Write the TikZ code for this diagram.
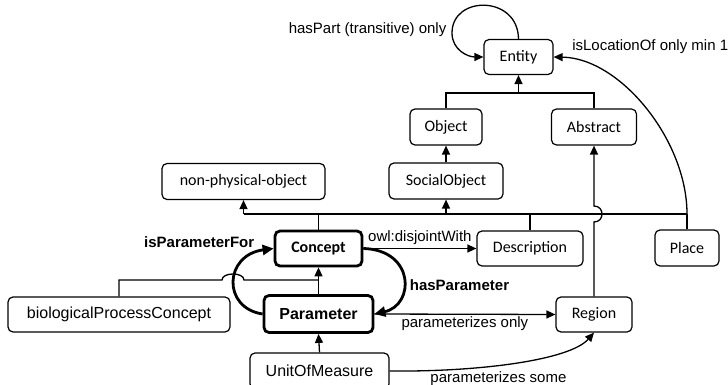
\documentclass[tikz,border=0pt]{standalone}
\usepackage{fontspec}
\setmainfont{Liberation Sans}
\newfontfamily\carlito{Carlito}
\usetikzlibrary{arrows.meta}

\begin{document}
\begin{tikzpicture}[x=1pt, y=-1pt,
        cls/.style={rectangle, draw, rounded corners=5pt, line width=1.2pt, minimum height=35pt, inner xsep=2pt, font=\carlito\fontsize{16}{19}\selectfont},
        keycls/.style={cls, line width=2.8pt},
        arial/.style={font=\fontsize{16}{19}\selectfont},
        arr/.style={-{Triangle[length=9pt, width=8pt]}, line width=1.3pt},
        thickarr/.style={-{Triangle[length=11pt, width=10pt]}, line width=2.8pt},
        lbl/.style={font=\fontsize{15}{18}\selectfont, inner sep=1pt}]
        \useasboundingbox (0,0) rectangle (728,385);

        % Top
        \node[cls, minimum width=69pt] (entity) at (518.5,57) {Entity};
        \node[cls, minimum width=72pt, minimum height=36pt] (object) at (446,127) {Object};
        \node[cls, minimum width=85pt, minimum height=36pt] (abstract) at (594,127) {Abstract};
        \node[cls, minimum width=114pt, minimum height=36pt] (social) at (446,181) {SocialObject};
        \node[cls, minimum width=163pt, minimum height=36pt] (nonphys) at (243.5,181.5) {non-physical-object};

        % Middle
        \node[keycls, minimum width=87pt, font=\carlito\bfseries\fontsize{16}{19}\selectfont] (concept) at (318.5,248.5) {Concept};
        \node[cls, minimum width=106pt] (description) at (530,248.5) {Description};
        \node[cls, minimum width=64pt, minimum height=36pt] (place) at (687,248) {Place};

        % Bottom
        \node[keycls, minimum width=109pt, minimum height=37pt, font=\bfseries\fontsize{16}{19}\selectfont] (parameter) at (318.5,314) {Parameter};
        \node[cls, arial, minimum width=222pt] (bpc) at (119,314.5) {biologicalProcessConcept};
        \node[cls, minimum width=76pt] (region) at (594,314.5) {Region};
        \node[cls, arial, minimum width=139pt, minimum height=36pt] (unit) at (319.5,371) {UnitOfMeasure};

        % Joints
        \coordinate (entbar) at (518.5,93);
        \coordinate (barL) at (243.5,214);
        \coordinate (barR) at (687,214);
        \coordinate (cjoin) at (318.5,280);

        % Subclass tree
        \draw[line width=1.3pt] (object.north) |- (entbar) -| (abstract.north);
        \draw[arr] (entbar) -- (entity.south);
        \draw[arr] (social.north) -- (object.south);
        \draw[line width=1.3pt] (barL) -- (barR);
        \draw[arr] (barL) -- (nonphys.south);
        \draw[arr] (social.south |- barL) -- (social.south);
        \draw[line width=1.3pt] (concept.north) -- (concept.north |- barL);
        \draw[line width=1.3pt] (description.north) -- (description.north |- barL);
        \draw[line width=1.3pt] (place.north) -- (barR);
        \draw[arr] (region.north) -- (594,222) .. controls (604.7,222) and (604.7,206) .. (594,206) -- (abstract.south);
        \draw[line width=1.3pt] (bpc.north) |- (222,280) .. controls (222,272) and (244,272) .. (244,280) -- (cjoin);
        \draw[arr] (parameter.north) -- (concept.south);
        \draw[arr] (unit.north) -- (parameter.south);

        % Relations
        \draw[arr] (entity.north) .. controls (518,-5) and (452,-5) .. (452,33) node[lbl, anchor=east, xshift=-4pt, yshift=3pt] {hasPart (transitive) only} .. controls (452,50) and (468,57) .. (entity.west);
        \draw[arr] (barR) .. controls (687,140) and (620,58) .. (entity.east) node[lbl, at end, anchor=south west, xshift=17pt, yshift=2pt] {isLocationOf only min 1};
        \draw[thickarr] (parameter.west) .. controls (222,308) and (224,255) .. (concept.west) node[lbl, at end, anchor=east, xshift=-17pt, yshift=6pt, font=\bfseries\fontsize{15}{18}\selectfont] {isParameterFor};
        \draw[thickarr] (concept.east) .. controls (415,250) and (415,305) .. node[lbl, anchor=west, xshift=4pt, yshift=-7pt, font=\bfseries\fontsize{15}{18}\selectfont] {hasParameter} (parameter.east);
        \draw[arr] (concept.east) -- node[lbl, above, yshift=2pt] {owl:disjointWith} (description.west);
        \draw[arr] (parameter.east) -- node[lbl, below, yshift=-1pt] {parameterizes only} (region.west);
        \draw[arr] (unit.east) .. controls (480,372) and (570,360) .. node[lbl, pos=0.42, below, yshift=-5pt] {parameterizes some} (region.south);
    \end{tikzpicture}
\end{document}
